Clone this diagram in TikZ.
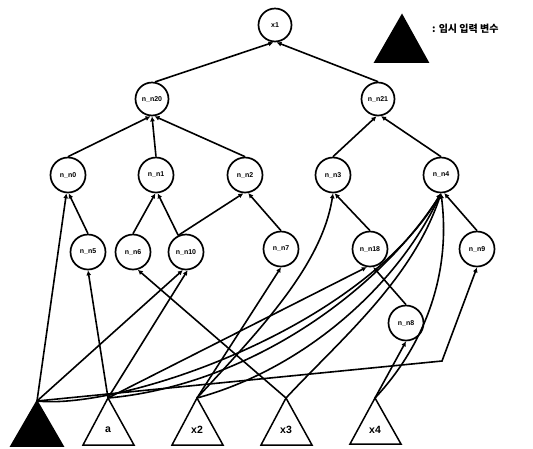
\documentclass[tikz,border=0pt]{standalone}
\usepackage{fontspec}
\setmainfont{Liberation Sans}
\newfontfamily\kr{Noto Sans CJK KR}
\usetikzlibrary{arrows.meta}
\begin{document}
\begin{tikzpicture}[x=1pt,y=-1pt,
  nd/.style={circle,draw,line width=1.7pt,minimum size=35pt,inner sep=0pt,font=\bfseries\fontsize{7}{8}\selectfont},
  ndu/.style={nd,minimum size=33pt},
  arr/.style={-{Latex[length=5pt,width=5pt]},line width=1.6pt},
  tri/.style={draw,line width=1.5pt,line join=miter},
  tlab/.style={font=\bfseries\fontsize{10.5}{12}\selectfont,inner sep=0pt}]
\useasboundingbox (0,0) rectangle (533,448);
% nodes
\node[ndu] (x1) at (275,25) {x1};
\node[ndu] (n20) at (152,99) {n\_n20};
\node[ndu] (n21) at (378,99) {n\_n21};
\node[nd] (n0) at (68,175) {n\_n0};
\node[nd] (n1) at (156,175) {n\_n1};
\node[nd] (n2) at (245,175) {n\_n2};
\node[nd] (n3) at (333,175) {n\_n3};
\node[nd] (n4) at (441,175) {n\_n4};
\node[nd] (n5) at (88,252) {n\_n5};
\node[nd] (n6) at (133,252) {n\_n6};
\node[nd] (n10) at (186,252) {n\_n10};
\node[nd] (n7) at (281,249) {n\_n7};
\node[nd] (n18) at (370,249) {n\_n18};
\node[nd] (n9) at (477,249) {n\_n9};
\node[nd] (n8) at (406,323) {n\_n8};
% triangles
\coordinate (tT) at (37,401);
\coordinate (ta) at (108,398);
\coordinate (tx2) at (197,398);
\coordinate (tx3) at (286,398);
\coordinate (tx4) at (375,398);
\draw[tri,fill=black] (tT) -- (11,446) -- (63,446) -- cycle;
\draw[tri] (ta) -- (83,445) -- (134,445) -- cycle;
\draw[tri] (tx2) -- (172,445) -- (223,445) -- cycle;
\draw[tri] (tx3) -- (261,445) -- (312,445) -- cycle;
\draw[tri] (tx4) -- (350,444) -- (401,444) -- cycle;
\node[tlab] (la) at (108,430) {a};
\node[tlab] (lx2) at (197,430) {x2};
\node[tlab] (lx3) at (286,430) {x3};
\node[tlab] (lx4) at (375,430) {x4};
% legend
\coordinate (lg) at (402,15);
\draw[tri,fill=black] (lg) -- (375,62) -- (428,62) -- cycle;
\node[anchor=west,inner sep=0pt,font=\fontsize{10}{12}\selectfont] (lgt) at (432,29) {\kr\bfseries : 임시 입력 변수};
% upper edges
\draw[arr] (n20.80) -- (x1.-95);
\draw[arr] (n21.north) -- (x1.-85);
\draw[arr] (n0.north) -- (n20.-95);
\draw[arr] (n1.north) -- (n20.-90);
\draw[arr] (n2.north) -- (n20.-82);
\draw[arr] (n3.north) -- (n21.-95);
\draw[arr] (n4.north) -- (n21.-80);
\draw[arr] (n5.north) -- (n0.-88);
\draw[arr] (n6.north) -- (n1.-92);
\draw[arr] (n10.115) -- (n1.-85);
\draw[arr] (n10.115) -- (n2.-95);
\draw[arr] (n7.north) -- (n2.-80);
\draw[arr] (n18.north) -- (n3.-85);
\draw[arr] (n9.north) -- (n4.-80);
\draw[arr] (n8.north) -- (n18.-80);
% edges from inputs
\draw[arr] (tT) -- (n0.-95);
\draw[arr] (tT) -- (n10.-100);
\draw[arr] (ta) -- (n5.south);
\draw[arr] (ta) -- (n10.-85);
\draw[arr] (ta) -- (n18.-100);
\draw[arr] (tx3) -- (n6.-75);
\draw[arr] (tx2) -- (n7.south);
\draw[arr] (tx4) -- (n8.south);
\draw[arr] (tx2) .. controls (260,330) and (322,265) .. (n3.south);
\draw[arr] (tT) -- (442,361) -- (n9.south);
\draw[arr] (tT) .. controls (120,410) and (360,330) .. (n4.south);
\draw[arr] (ta) .. controls (250,385) and (380,290) .. (n4.south);
\draw[arr] (tx2) .. controls (300,370) and (395,290) .. (n4.south);
\draw[arr] (tx3) .. controls (340,340) and (412,280) .. (n4.south);
\draw[arr] (tx4) .. controls (420,350) and (452,280) .. (n4.south);
\end{tikzpicture}
\end{document}
